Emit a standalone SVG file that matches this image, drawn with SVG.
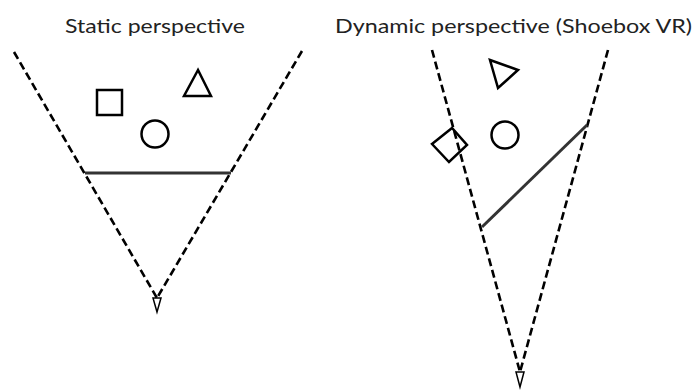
<svg xmlns="http://www.w3.org/2000/svg" width="695" height="390" viewBox="0 0 695 390">
<style>
.t{font-family:Lato,"Open Sans","Liberation Sans",sans-serif;font-size:19px;fill:#222}
.d{fill:none;stroke:#000;stroke-width:2.6;stroke-dasharray:8 4}
.s{fill:none;stroke:#000;stroke-width:2.5}
.p{fill:none;stroke:#333;stroke-width:3}
.e{fill:none;stroke:#000;stroke-width:1.5}
</style>
<rect width="695" height="390" fill="#fff"/>
<text class="t" x="65" y="33" textLength="180" lengthAdjust="spacingAndGlyphs">Static perspective</text>
<text class="t" x="335" y="33" textLength="357" lengthAdjust="spacingAndGlyphs">Dynamic perspective (Shoebox VR)</text>
<g id="connectors">
<line class="d" x1="14" y1="52" x2="157" y2="298"/>
<line class="d" x1="302" y1="51" x2="157" y2="298"/>
<line class="d" x1="432" y1="50" x2="520" y2="372"/>
<line class="d" x1="608" y1="50" x2="520" y2="372"/>
<line class="p" x1="85" y1="173" x2="231" y2="173"/>
<line class="p" x1="587" y1="125" x2="482" y2="227"/>
</g>
<g id="eye-left"><polygon class="e" points="153,298 161,298 157,312"/></g>
<g id="eye-right"><polygon class="e" points="516,372 524,372 520,387"/></g>
<g id="square-left"><rect class="s" x="97" y="90" width="25" height="25"/></g>
<g id="circle-left"><circle class="s" cx="155" cy="134" r="13.5"/></g>
<g id="triangle-left"><polygon class="s" points="198,70 184,96 211,96"/></g>
<g id="triangle-right"><polygon class="s" points="490,60 518,70 498,88"/></g>
<g id="circle-right"><circle class="s" cx="505" cy="135" r="13.5"/></g>
<g id="diamond-right"><polygon class="s" points="432,144 452,128 467,145 449,162"/></g>
</svg>
